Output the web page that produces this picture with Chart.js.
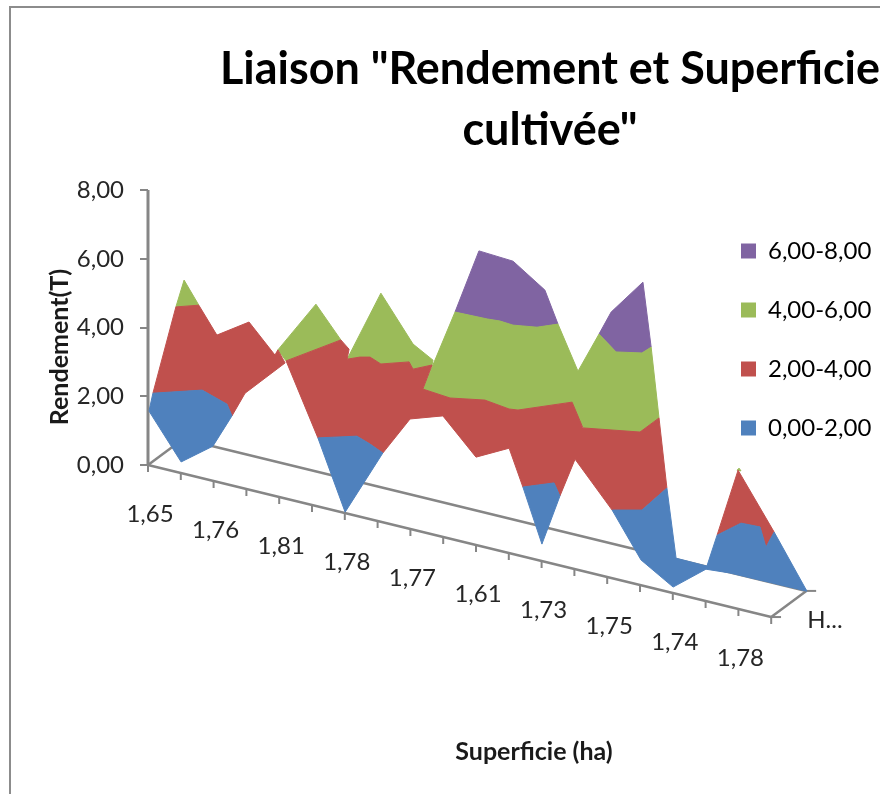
<!DOCTYPE html>
<html>
<head>
<meta charset="utf-8">
<title>Liaison Rendement et Superficie</title>
<script src="https://cdn.jsdelivr.net/npm/chart.js@4"></script>
<style>
    html, body { margin: 0; background: #fff; overflow: hidden; }
    #frame { position: absolute; left: 9px; top: 6px; width: 1000px; height: 1000px; border: 2px solid #8c8c8c; }
    #surface { position: absolute; left: 0; top: 0; }
</style>
</head>
<body>
<div id="frame"></div>
<canvas id="surface" width="880" height="794"></canvas>
<script>
// Labels
const categoryLabels = ["1,65", "1,76", "1,81", "1,78", "1,77", "1,61", "1,73", "1,75", "1,74", "1,78"];
const seriesLabel = "H...";
const bandLabels = ["0,00-2,00", "2,00-4,00", "4,00-6,00", "6,00-8,00"];
const bandColors = ["#4F81BD", "#C0504D", "#9BBB59", "#8064A2"];
const titleLines = ['Liaison "Rendement et Superficie', 'cultivée"'];

// Surface bands: x = position along the category axis, y = Rendement(T) on the value axis
const blueCats1 = [.15, 1.65, 2.41, 2.56, 1.98, 1.01, .03];
const blueVals1 = [2.09, 2.18, 1.77, 1.43, .55, .09, 1.57];
const blueCats2 = [5.18, 6.37, 6.77, 7.16, 6.01];
const blueVals2 = [.79, .84, .61, .35, -1.37];
const blueCats3 = [11.43, 12.38, 12.56, 12.01];
const blueVals3 = [-.64, -.52, -.90, -2.30];
const blueCats4 = [14.15, 15.06, 15.82, 16.10, 17.04, 17.35, 18.08, 18.66, 18.84, 19.09, 20.09, 17.74, 17.01, 16.01, 15.03];
const blueVals4 = [-1.31, -1.31, -.67, -2.71, -2.94, -2.04, -1.69, -1.80, -2.39, -1.95, -3.67, -3.14, -3.03, -3.55, -2.76];

const redCats1 = [.15, .85, 1.55, 2.10, 3.08, 3.87, 3.96, 4.18, 2.96, 2.56, 2.41, 1.65];
const redVals1 = [2.09, 4.60, 4.65, 3.78, 4.16, 3.20, 3.35, 2.97, 2.09, 1.43, 1.77, 2.18];
const redCats2 = [4.21, 5.88, 6.13, 6.07, 6.46, 6.77, 7.10, 7.96, 8.08, 8.66, 8.38, 9.21, 10.27, 11.01, 11.28, 12.93, 13.26, 15.00, 15.58, 15.82, 15.06, 14.15, 13.02, 12.56, 12.38, 11.43, 11.01, 10.00, 8.99, 7.99, 7.16, 6.77, 6.37, 5.18];
const redVals2 = [3.03, 3.64, 3.37, 3.08, 3.14, 3.14, 2.94, 3.00, 2.79, 2.91, 2.21, 1.95, 1.89, 1.63, 1.60, 1.83, 1.08, .96, 1.37, -.67, -1.31, -1.31, .17, -.90, -.52, -.64, .49, .23, 1.43, 1.34, .35, .61, .84, .79];
const redCats3 = [17.35, 17.99, 19.09, 18.84, 18.66, 18.08];
const redVals3 = [-2.04, -.15, -1.95, -2.39, -1.80, -1.69];

const greenCats1 = [.85, 1.10, 1.55];
const greenVals1 = [4.60, 5.38, 4.65];
const greenCats2 = [3.96, 5.12, 5.88, 4.21];
const greenVals2 = [3.35, 4.68, 3.64, 3.03];
const greenCats3 = [6.07, 7.10, 8.08, 8.69, 8.66, 8.08, 7.96, 7.10, 6.77, 6.46];
const greenVals3 = [3.08, 5.00, 3.52, 3.05, 2.91, 2.79, 3.00, 2.94, 3.14, 3.14];
const greenCats4 = [9.36, 10.34, 10.73, 11.13, 11.86, 12.50, 13.11, 13.75, 14.27, 15.06, 15.34, 15.58, 15.00, 13.32, 13.17, 12.93, 11.28, 11.01, 10.27, 9.21, 8.38];
const greenVals4 = [4.45, 4.25, 4.19, 4.07, 4.01, 4.10, 2.73, 3.81, 3.29, 3.26, 3.43, 1.37, .96, 1.05, 1.22, 1.83, 1.60, 1.63, 1.89, 1.95, 2.21];
const greenCats5 = [17.96, 18.02, 18.08];
const greenVals5 = [-.15, -.09, -.17];

const purpleCats1 = [9.36, 10.09, 11.13, 12.10, 12.50, 11.86, 11.13, 10.73, 10.34];
const purpleVals1 = [4.45, 6.23, 5.93, 5.09, 4.10, 4.01, 4.07, 4.19, 4.25];
const purpleCats2 = [13.75, 14.12, 15.09, 15.34, 15.06, 14.27];
const purpleVals2 = [3.81, 4.45, 5.32, 3.43, 3.26, 3.29];

// Projection of the 3D floor, in the same units
const catCount = 20;
const pxPerCat = 32.8;
const pxPerValue = 34.375;
const floorDrop = 8 / pxPerValue;
const depthCats = 1.07;
const depthVals = .76;
const axisGray = "#868686";
const textColor = "#262626";

function toPoints(xs, ys) {
    return xs.map((x, i) => ({ x: x, y: ys[i] }));
}

function band(xs, ys, colorIndex) {
    const pts = toPoints(xs, ys);
    pts.push(pts[0]);
    return {
        label: bandLabels[colorIndex],
        data: pts,
        showLine: true,
        fill: "shape",
        backgroundColor: bandColors[colorIndex],
        borderColor: bandColors[colorIndex],
        borderWidth: 1,
        pointRadius: 0,
        tension: 0,
        clip: false,
        order: 1
    };
}

function axisLine(pts, width) {
    return {
        label: "axis",
        data: pts,
        showLine: true,
        fill: false,
        borderColor: axisGray,
        borderWidth: width,
        pointRadius: 0,
        tension: 0,
        clip: false,
        order: 5
    };
}

const lastFloor = -(catCount - 1) * floorDrop;

// little ticks under the front edge, one per category
const floorTicks = [];
for (let i = 0; i < catCount; i++) {
    floorTicks.push({ x: i, y: -i * floorDrop }, { x: i, y: -i * floorDrop - .2 }, { x: i, y: null });
}

const axisDatasets = [
    axisLine(toPoints([0, 0], [0, 8]), 3),
    axisLine(toPoints([0, catCount - 1], [0, lastFloor]), 2.5),
    axisLine(toPoints([depthCats, catCount - 1 + depthCats], [depthVals, lastFloor + depthVals]), 2.5),
    axisLine(toPoints([0, depthCats], [0, depthVals]), 2.5),
    axisLine(toPoints([catCount - 1, catCount - 1 + depthCats], [lastFloor, lastFloor + depthVals]), 2.5),
    axisLine(toPoints([catCount - 1, catCount - .7], [lastFloor, lastFloor]), 2),
    axisLine(toPoints([catCount - 1 + depthCats, catCount - .7 + depthCats], [lastFloor + depthVals, lastFloor + depthVals]), 2),
    axisLine(floorTicks, 2)
];

const bandDatasets = [
    band(blueCats1, blueVals1, 0),
    band(blueCats2, blueVals2, 0),
    band(blueCats3, blueVals3, 0),
    band(blueCats4, blueVals4, 0),
    band(redCats1, redVals1, 1),
    band(redCats2, redVals2, 1),
    band(redCats3, redVals3, 1),
    band(greenCats1, greenVals1, 2),
    band(greenCats2, greenVals2, 2),
    band(greenCats3, greenVals3, 2),
    band(greenCats4, greenVals4, 2),
    band(greenCats5, greenVals5, 2),
    band(purpleCats1, purpleVals1, 3),
    band(purpleCats2, purpleVals2, 3)
];

// Title and legend are moved over the plot, like in the Excel chart,
// the slanted axis texts have no place in a normal Chart.js scale
const chartExtras = {
    id: "chartExtras",
    beforeDraw(chart) {
        chart.titleBlock.left = 220;
        chart.titleBlock.right = 880;
        chart.legend.left = 706;
        chart.legend.right = 880;
        chart.legend.top = 204;
        chart.legend.bottom = 794;
    },
    afterDraw(chart) {
        const ctx = chart.ctx;
        const xScale = chart.scales.x;
        const yScale = chart.scales.y;
        ctx.save();
        ctx.fillStyle = textColor;
        ctx.textAlign = "center";
        ctx.textBaseline = "middle";

        ctx.font = "24px Lato";
        categoryLabels.forEach((label, i) => {
            const cat = i * 2;
            ctx.fillText(label, xScale.getPixelForValue(cat) + 2, yScale.getPixelForValue(-cat * floorDrop) + 49);
        });

        ctx.textAlign = "left";
        ctx.fillText(seriesLabel, xScale.getPixelForValue(catCount - 1 + depthCats) + 1, yScale.getPixelForValue(lastFloor) + 3);

        ctx.textAlign = "center";
        ctx.fillStyle = "#1a1a1a";
        ctx.font = "bold 25px Lato";
        ctx.fillText("Superficie (ha)", 534, 752);

        ctx.translate(60, 347);
        ctx.rotate(-Math.PI / 2);
        ctx.fillText("Rendement(T)", 0, 0);
        ctx.restore();
    }
};

new Chart(document.getElementById("surface"), {
    type: "scatter",
    data: { datasets: bandDatasets.concat(axisDatasets) },
    plugins: [chartExtras],
    options: {
        responsive: false,
        animation: false,
        events: [],
        layout: { padding: { right: 60, bottom: 164 } },
        plugins: {
            tooltip: { enabled: false },
            title: {
                display: true,
                text: titleLines,
                color: "#000",
                font: { family: "Lato", size: 45, weight: "bold", lineHeight: 1.356 },
                padding: { top: 39, bottom: 29 }
            },
            legend: {
                position: "chartArea",
                align: "start",
                labels: {
                    boxWidth: 15,
                    boxHeight: 15,
                    padding: 35,
                    color: textColor,
                    font: { family: "Lato", size: 24 },
                    generateLabels: () => bandLabels.map((text, i) => ({
                        text: text,
                        fillStyle: bandColors[i],
                        strokeStyle: bandColors[i],
                        lineWidth: 0,
                        hidden: false,
                        datasetIndex: i
                    })).reverse()
                }
            }
        },
        scales: {
            x: {
                type: "linear",
                display: false,
                min: 0,
                max: catCount,
                afterBuildTicks(scale) {
                    scale.max = scale.width / pxPerCat;
                }
            },
            y: {
                type: "linear",
                min: 0,
                max: 8,
                afterBuildTicks(scale) {
                    scale.min = 8 - scale.height / pxPerValue;
                },
                afterFit(scale) {
                    scale.width = 148;
                },
                border: { display: false },
                grid: {
                    drawOnChartArea: false,
                    color: axisGray,
                    lineWidth: 2,
                    tickLength: 8
                },
                ticks: {
                    stepSize: 2,
                    padding: 16,
                    color: textColor,
                    font: { family: "Lato", size: 24 },
                    callback: v => v.toFixed(2).replace(".", ",")
                }
            }
        }
    }
});
</script>
</body>
</html>
